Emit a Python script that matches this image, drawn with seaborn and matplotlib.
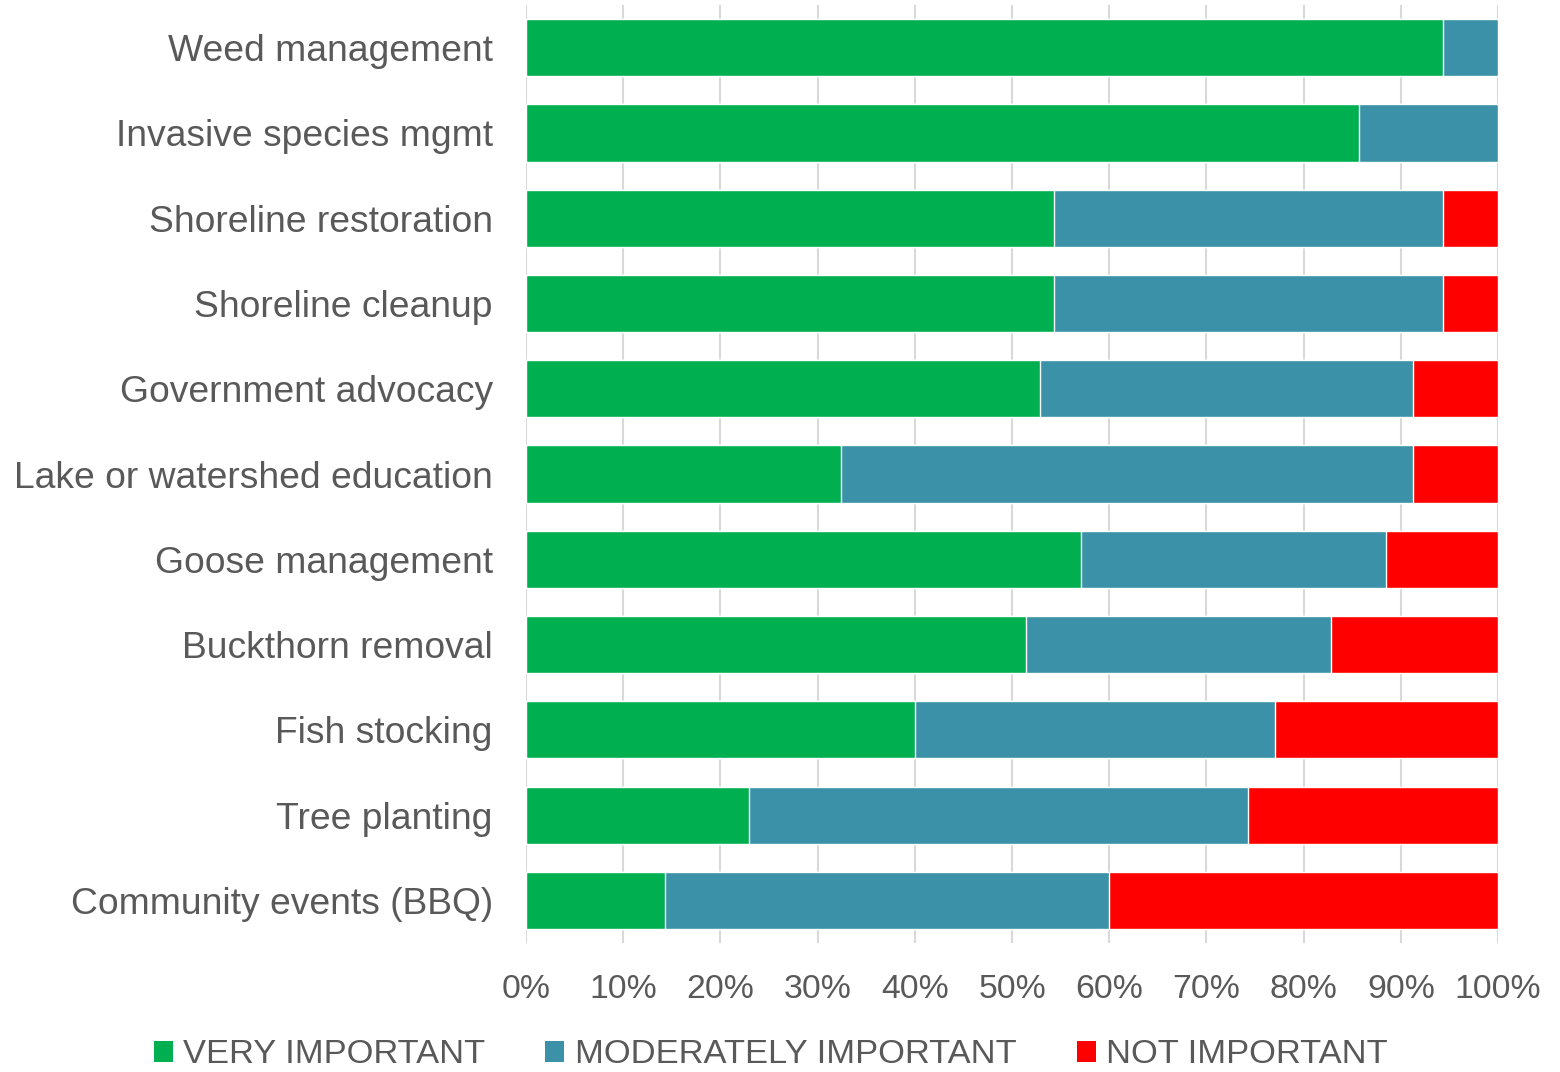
import pandas as pd
import numpy as np
import matplotlib.pyplot as plt
import seaborn as sns
from matplotlib.patches import Patch

## survey: importance of lake association activities (% of responses)
activities = ['Weed management', 'Invasive species mgmt', 'Shoreline restoration',
              'Shoreline cleanup', 'Government advocacy', 'Lake or watershed education',
              'Goose management', 'Buckthorn removal', 'Fish stocking', 'Tree planting',
              'Community events (BBQ)']
very_important = [94.3, 85.7, 54.3, 54.3, 52.9, 32.4, 57.1, 51.4, 40.0, 22.9, 14.3]
moderately_important = [5.7, 14.3, 40.0, 40.0, 38.3, 58.8, 31.4, 31.4, 37.1, 51.4, 45.7]
not_important = [0.0, 0.0, 5.7, 5.7, 8.8, 8.8, 11.5, 17.2, 22.9, 25.7, 40.0]
series_names = ['VERY IMPORTANT', 'MODERATELY IMPORTANT', 'NOT IMPORTANT']
xticks = [0, 10, 20, 30, 40, 50, 60, 70, 80, 90, 100]

colors = ['#00B050', '#3A91A8', '#FF0000']
text_color = '#595959'

df = pd.DataFrame({'activity': activities,
                   'very': very_important,
                   'moderately': moderately_important,
                   'not': not_important})
df['cum_moderately'] = df['very'] + df['moderately']
df['cum_not'] = df['cum_moderately'] + df['not']

sns.set_style('white')
plt.rcParams['font.family'] = ['Liberation Sans', 'DejaVu Sans']

fig = plt.figure(figsize=(15.6, 10.72), dpi=100)
ax = fig.add_axes([0.3372, 0.1203, 0.6231, 0.875])

# stacked bars: draw the cumulative totals back to front
sns.barplot(x='cum_not', y='activity', data=df, color=colors[2], orient='h',
            width=0.67, saturation=1, ax=ax, zorder=3)
sns.barplot(x='cum_moderately', y='activity', data=df, color=colors[1], orient='h',
            width=0.67, saturation=1, ax=ax, zorder=3)
sns.barplot(x='very', y='activity', data=df, color=colors[0], orient='h',
            width=0.67, saturation=1, ax=ax, zorder=3)

ax.set_xlim(0, 100)
ax.set_ylim(10.5, -0.5)
ax.set_xticks(xticks)
ax.set_xticklabels([f'{t}%' for t in xticks])
ax.set_xlabel('')
ax.set_ylabel('')
ax.tick_params(axis='x', length=0, pad=22, labelsize=24.3, labelcolor=text_color)
ax.tick_params(axis='y', length=0, pad=24, labelsize=26.8, labelcolor=text_color)
ax.grid(axis='x', color='#D9D9D9', linewidth=1.5, zorder=0)
ax.grid(axis='y', visible=False)
ax.set_axisbelow(True)
sns.despine(ax=ax, left=True, bottom=True)

handles = [Patch(facecolor=c, edgecolor='none', label=n) for c, n in zip(colors, series_names)]
fig.legend(handles=handles, loc='lower center', bbox_to_anchor=(0.494, -0.021), ncol=3,
           frameon=False, fontsize=24.8, labelcolor=text_color, borderpad=0.2,
           handlelength=0.55, handleheight=0.55, handletextpad=0.3, columnspacing=1.75)

plt.savefig('out.png', dpi=100)
